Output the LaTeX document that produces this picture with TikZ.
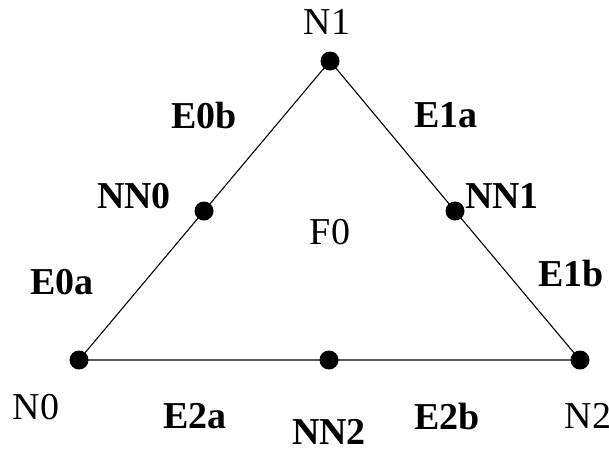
\documentclass[tikz,border=0pt]{standalone}
\usepackage{fontspec}
\setmainfont{Liberation Serif}
\begin{document}
\begin{tikzpicture}[x=1pt,y=-1pt,
  dot/.style={circle,fill=black,inner sep=0pt,minimum size=19pt},
  lbl/.style={inner sep=0pt,font=\fontsize{38}{40}\selectfont},
  blbl/.style={inner sep=0pt,font=\fontsize{38}{40}\selectfont\bfseries},
  edge/.style={line width=1.1pt}]
\useasboundingbox (0,0) rectangle (609,448);
\node[dot] (n0) at (79,360) {};
\node[dot] (n1) at (330,61) {};
\node[dot] (n2) at (580,360) {};
\node[dot] (nn0) at (204,211) {};
\node[dot] (nn1) at (455,211) {};
\node[dot] (nn2) at (329,360) {};
\draw[edge] (n0.center) -- (nn0.center) -- (n1.center) -- (nn1.center) -- (n2.center) -- (nn2.center) -- (n0.center);
\node[lbl] (ln1) at (327,22) {N1};
\node[lbl] (ln0) at (36,407) {N0};
\node[lbl] (ln2) at (588,416) {N2};
\node[lbl] (lf0) at (330,232) {F0};
\node[blbl] (le0b) at (204,115) {E0b};
\node[blbl] (le1a) at (446,115) {E1a};
\node[blbl] (lnn0) at (134,196) {NN0};
\node[blbl] (lnn1) at (502,196) {NN1};
\node[blbl] (le0a) at (62,282) {E0a};
\node[blbl] (le1b) at (571,273) {E1b};
\node[blbl] (le2a) at (195,416) {E2a};
\node[blbl] (lnn2) at (329,432) {NN2};
\node[blbl] (le2b) at (447,416) {E2b};
\end{tikzpicture}
\end{document}
